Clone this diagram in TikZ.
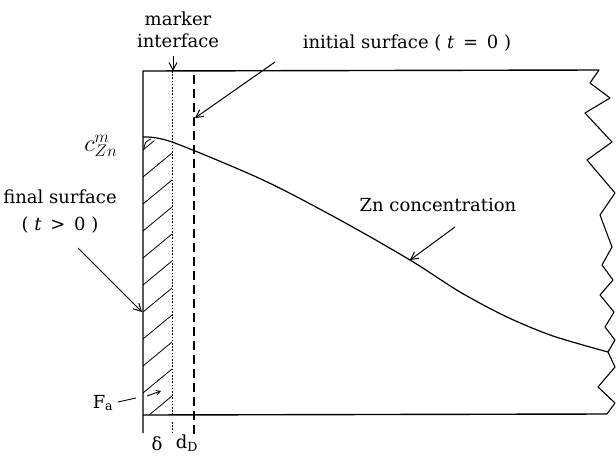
\documentclass[tikz,border=0pt]{standalone}
\usepackage{fontspec}
\usepackage{graphicx}
\setmainfont{DejaVu Serif}
\usetikzlibrary{positioning, arrows.meta}

\begin{document}
\begin{tikzpicture}[
  x=1pt, y=-1pt,
  every node/.style={font=\fontsize{18}{21}\selectfont, inner sep=1pt},
  wall/.style={line width=1.4pt},
  marker/.style={line width=1pt, dash pattern=on 1.6pt off 1.6pt},
  initial/.style={line width=1.2pt, dash pattern=on 9pt off 5pt},
  conc/.style={line width=1.2pt},
  hatch/.style={line width=0.8pt},
  arrow/.style={-{Straight Barb[length=2.6mm, width=2.8mm]}, line width=1pt},
]
  \useasboundingbox (0,0) rectangle (616,458);

  % specimen outline
  \coordinate (tl) at (143,71);
  \coordinate (bl) at (143,415);
  \coordinate (tr) at (599,70);
  \coordinate (br) at (607,414);
  \draw[wall] (143,433) -- (tl) -- (tr);
  \draw[wall] (bl) -- (br);
  \draw[wall, line width=1.1pt, line join=round] (tr) -- (590,83) -- (610,98) -- (585,113) -- (612,142)
    -- (587,160) -- (615,193) -- (600,215) -- (612,247) -- (602,265) -- (613,280)
    -- (600,295) -- (614,312) -- (605,327) -- (615,340) -- (608,352) -- (615,367)
    -- (598,387) -- (615,403) -- (br);

  % marker interface and initial surface
  \draw[marker] (172,71) -- (172,415);
  \draw[marker] (172,422) -- (172,433);
  \draw[initial] (194,75) -- (194,436);

  % hatched layer
  \begin{scope}
    \clip (143,139) -- (172,143) -- (172,415) -- (143,415) -- cycle;
    \foreach \y in {150,177,...,450}
      \draw[hatch] (143,\y) -- (172,\y-24);
  \end{scope}
  \draw[hatch] (144,149) .. controls (145,142) .. (151,139);

  % concentration profile
  \draw[conc] plot[smooth, tension=0.5] coordinates {(143,137) (172,142) (263,180)
    (340,220) (410,260) (460,292) (507,317) (553,336) (608,352)};

  % labels
  \node (markerlbl) at (178,30) [align=center] {marker\\[1pt]interface};
  \node (initlbl) at (407,43) {initial surface ( \textit{t} \,=\, 0 )};
  \node (czn) at (101,146) {\scalebox{1.4}{$c^{m}_{Zn}$}};
  \node (finallbl) at (60,212) [align=center] {final surface\\[6pt]( \textit{t} \,>\, 0 )};
  \node (znlbl) at (438,205) {Zn concentration};
  \node (fa) at (103,403) {F\textsubscript{a}};
  \node (delta) at (157,444) {δ};
  \node (dd) at (187,443) {d\textsubscript{D}};

  % arrows
  \coordinate (markertail) at (173,56);
  \coordinate (markertip) at (173,71);
  \coordinate (inittail) at (275,62);
  \coordinate (inittip) at (195,118);
  \coordinate (finaltail) at (78,248);
  \coordinate (finaltip) at (142,312);
  \coordinate (zntail) at (455,227);
  \coordinate (zntip) at (410,260);
  \coordinate (fatail) at (118,402);
  \coordinate (fahead) at (136,398);
  \coordinate (faarrtail) at (147,396);
  \coordinate (faarrtip) at (161,391);

  \draw[arrow] (markertail) -- (markertip);
  \draw[arrow] (inittail) -- (inittip);
  \draw[arrow] (finaltail) -- (finaltip);
  \draw[arrow] (zntail) -- (zntip);
  \draw[line width=0.9pt] (fatail) -- (fahead);
  \draw[-{Straight Barb[length=1.4mm, width=1.6mm]}, line width=0.9pt] (faarrtail) -- (faarrtip);

\end{tikzpicture}
\end{document}
